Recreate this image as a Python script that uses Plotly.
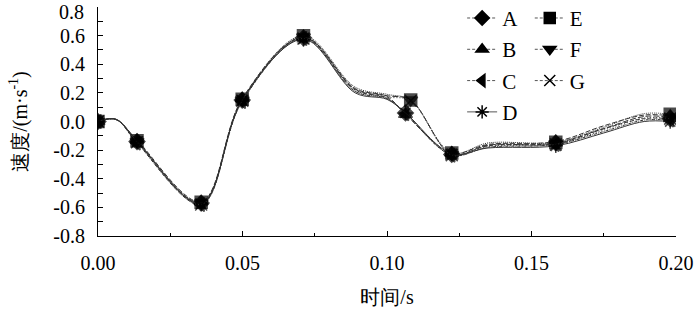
import plotly.graph_objects as go

# time points (s); hidden helper points carry marker size 0
t_low = [0, 0.0062, 0.0135, 0.0357, 0.0499, 0.0711, 0.089, 0.1, 0.1064, 0.1224, 0.135, 0.1584, 0.175, 0.189, 0.198]
t_high = [0, 0.0062, 0.0135, 0.0357, 0.0499, 0.0711, 0.089, 0.1, 0.1082, 0.1224, 0.135, 0.1584, 0.175, 0.189, 0.198]
shown = [1, 0, 1, 1, 1, 1, 0, 0, 1, 1, 0, 1, 0, 0, 1]

names = ["A", "B", "C", "D", "E", "F", "G"]
v_A = [0, 0.015, -0.14, -0.57, 0.15, 0.585, 0.22, 0.165, 0.06, -0.23, -0.17, -0.15, -0.05, 0.02, 0.02]
v_B = [0, 0.016, -0.13, -0.56, 0.16, 0.59, 0.23, 0.175, 0.05, -0.22, -0.16, -0.14, -0.03, 0.045, 0.04]
v_C = [0, 0.014, -0.15, -0.58, 0.14, 0.58, 0.21, 0.16, 0.055, -0.235, -0.18, -0.16, -0.07, 0.01, 0.01]
v_D = [0, 0.015, -0.14, -0.575, 0.15, 0.575, 0.20, 0.155, 0.06, -0.225, -0.185, -0.17, -0.08, 0.0, 0.0]
v_E = [0, 0.015, -0.135, -0.565, 0.155, 0.60, 0.24, 0.19, 0.15, -0.22, -0.15, -0.145, -0.04, 0.055, 0.05]
v_F = [0, 0.014, -0.14, -0.57, 0.15, 0.59, 0.225, 0.18, 0.15, -0.23, -0.165, -0.155, -0.05, 0.035, 0.03]
v_G = [0, 0.016, -0.145, -0.58, 0.145, 0.58, 0.21, 0.17, 0.145, -0.235, -0.175, -0.16, -0.06, 0.025, 0.02]

x_ticks = [0, 0.05, 0.10, 0.15, 0.20]
x_tick_labels = ["0.00", "0.05", "0.10", "0.15", "0.20"]
y_ticks = [-0.8, -0.6, -0.4, -0.2, 0.0, 0.2, 0.4, 0.6, 0.8]
y_tick_labels = ["-0.8", "-0.6", "-0.4", "-0.2", "0.0", "0.2", "0.4", "0.6", "0.8"]

values = [v_A, v_B, v_C, v_D, v_E, v_F, v_G]
times = [t_low, t_low, t_low, t_low, t_high, t_high, t_high]
symbols = ["diamond", "triangle-up", "triangle-left", "asterisk-open", "square", "triangle-down", "x-thin-open"]
dashes = ["4px,2px", "5px,2px", "3px,1px,1px,1px", "solid", "1px,1px", "6px,2px", "1px,2px"]
legends = ["legend", "legend", "legend", "legend", "legend2", "legend2", "legend2"]

FONT = "Times New Roman, Liberation Serif, serif"

fig = go.Figure()
for i, n in enumerate(names):
    fig.add_trace(go.Scatter(
        x=times[i], y=values[i], name=n, mode="lines+markers", showlegend=False,
        line=dict(color="#333333", width=1, dash=dashes[i], shape="spline", smoothing=1.0),
        marker=dict(symbol=symbols[i], color="black", size=[12 * s for s in shown],
                    line=dict(color="black", width=1.5)),
    ))
# legend entries (no data drawn)
for i, n in enumerate(names):
    fig.add_trace(go.Scatter(
        x=[None], y=[None], name=n, mode="lines+markers",
        line=dict(color="#555555", width=1, dash="3px,2px" if i != 3 else "solid"),
        marker=dict(symbol=symbols[i], color="black", size=11, line=dict(color="black", width=1.5)),
        legend=legends[i], legendgroup=n,
    ))

# top y tick label is drawn as an annotation, nudged down to stay inside the figure
y_text = [t if v != 0.8 else "" for v, t in zip(y_ticks, y_tick_labels)]
fig.add_annotation(text=y_tick_labels[-1], xref="paper", x=0, xanchor="right", xshift=-12,
                   yref="y", y=y_ticks[-1], yanchor="middle", yshift=-5, showarrow=False,
                   font=dict(family=FONT, size=20, color="black"))

leg_common = dict(font=dict(family=FONT, size=21, color="black"), bgcolor="rgba(0,0,0,0)",
                  itemwidth=30, tracegroupgap=1, y=1.04,
                  yanchor="top", xanchor="left", itemsizing="trace")
fig.update_layout(
    width=700, height=311,
    margin=dict(l=98, r=24, t=7, b=75, autoexpand=False),
    paper_bgcolor="white", plot_bgcolor="white",
    font=dict(family=FONT, size=20, color="black"),
    legend=dict(x=0.63, **leg_common),
    legend2=dict(x=0.747, **leg_common),
    xaxis=dict(range=[0, 0.2], tickvals=x_ticks, ticktext=x_tick_labels, showline=True, linecolor="black",
               linewidth=1, ticks="inside", ticklen=5, tickcolor="black", showgrid=False, zeroline=False,
               ticklabelstandoff=9,
               minor=dict(dtick=0.025, ticks="inside", ticklen=3, tickcolor="black", showgrid=False),
               title=dict(text="时间/s", font=dict(size=20), standoff=16)),
    yaxis=dict(range=[-0.8, 0.8], tickvals=y_ticks, ticktext=y_text, showline=True, linecolor="black",
               linewidth=1, ticks="inside", ticklen=5, tickcolor="black", showgrid=False, zeroline=False,
               ticklabelstandoff=8,
               minor=dict(dtick=0.1, ticks="inside", ticklen=5, tickcolor="black", showgrid=False),
               title=dict(text="速度/(m·s<sup>-1</sup>)", font=dict(size=20), standoff=20)),
)
fig.write_html("out.html", config={"displayModeBar": False},
               post_script="document.body.style.margin='0';")
